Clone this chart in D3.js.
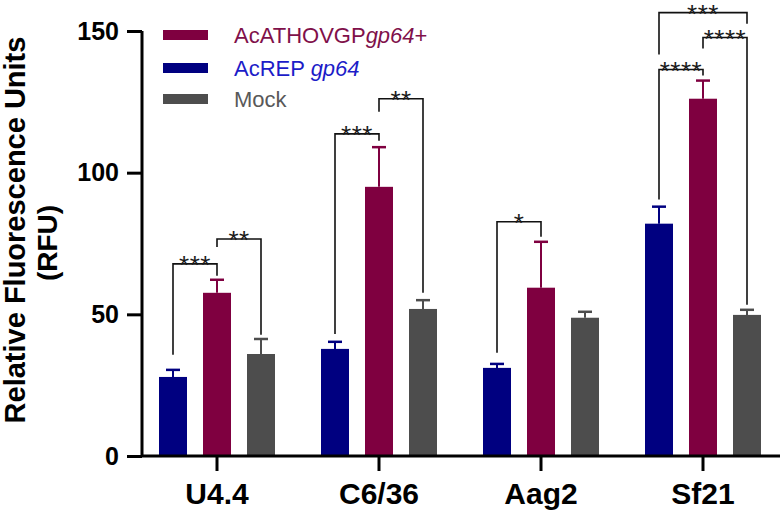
<!DOCTYPE html>
<html>
<head>
<meta charset="utf-8">
<script src="https://cdn.jsdelivr.net/npm/d3@7"></script>
<style>
  body { margin: 0; background: #fff; }
  svg text { font-family: Arial, "Liberation Sans", sans-serif; }
</style>
</head>
<body>
<div id="chart"></div>
<script>
// cell lines and series
const categories = ["U4.4", "C6/36", "Aag2", "Sf21"];
const seriesKeys = ["AcREP", "AcATHOVGP", "Mock"];

// mean RFU per series, in category order
const acrepMeans = [27.9, 37.8, 31.1, 82.0];
const acathoMeans = [57.6, 95.0, 59.4, 126.1];
const mockMeans = [36.0, 51.9, 48.8, 49.8];

// upper error (mean + SD)
const acrepErr = [30.4, 40.3, 32.5, 88.0];
const acathoErr = [62.2, 109.0, 75.6, 132.5];
const mockErr = [41.3, 55.0, 50.9, 51.6];

const yTicks = [0, 50, 100, 150];

// significance brackets: [category, from, to, stars, top, fromLeg, toLeg]
const brackets = [
    ["U4.4", "AcREP", "AcATHOVGP", "***", 67.8, 35.7, 63.6],
    ["U4.4", "AcATHOVGP", "Mock", "**", 76.6, 73.8, 42.8],
    ["C6/36", "AcREP", "AcATHOVGP", "***", 113.7, 43.1, 111.3],
    ["C6/36", "AcATHOVGP", "Mock", "**", 126.1, 121.5, 57.6],
    ["Aag2", "AcREP", "AcATHOVGP", "*", 82.7, 36.4, 77.4],
    ["Sf21", "AcREP", "AcATHOVGP", "****", 136.4, 90.5, 134.3],
    ["Sf21", "AcREP", "Mock", "***", 156.5, 141.7, 152.6],
    ["Sf21", "AcATHOVGP", "Mock", "****", 147.7, 143.8, 53.4]
];

const colors = { AcREP: "#000080", AcATHOVGP: "#7f0040", Mock: "#4d4d4d" };

const width = 782, height = 516;
const svg = d3.select("#chart").append("svg")
    .attr("width", width)
    .attr("height", height);

const x0 = d3.scaleBand().domain(categories).range([136, 784]);
const x1 = d3.scaleBand().domain(seriesKeys).range([-66, 66])
    .paddingInner(16 / 44).paddingOuter(8 / 44);
const y = d3.scaleLinear().domain([0, 150]).range([456, 31]);

const cx = (cat, key) => x0(cat) + x0.bandwidth() / 2 + x1(key) + x1.bandwidth() / 2;

// build rows
const rows = [];
categories.forEach((c, i) => {
    rows.push({ cat: c, key: "AcREP", v: acrepMeans[i], e: acrepErr[i] });
    rows.push({ cat: c, key: "AcATHOVGP", v: acathoMeans[i], e: acathoErr[i] });
    rows.push({ cat: c, key: "Mock", v: mockMeans[i], e: mockErr[i] });
});

/* error bars (behind bars) */
const eb = svg.append("g").attr("class", "errors");
eb.selectAll("line.stem").data(rows).enter().append("line")
    .attr("x1", d => cx(d.cat, d.key)).attr("x2", d => cx(d.cat, d.key))
    .attr("y1", d => y(d.v)).attr("y2", d => y(d.e))
    .attr("stroke", d => colors[d.key]).attr("stroke-width", 2);
eb.selectAll("line.cap").data(rows).enter().append("line")
    .attr("x1", d => cx(d.cat, d.key) - 7).attr("x2", d => cx(d.cat, d.key) + 7)
    .attr("y1", d => y(d.e)).attr("y2", d => y(d.e))
    .attr("stroke", d => colors[d.key]).attr("stroke-width", 2.5);

/* bars */
svg.append("g").selectAll("rect").data(rows).enter().append("rect")
    .attr("x", d => cx(d.cat, d.key) - x1.bandwidth() / 2)
    .attr("width", x1.bandwidth())
    .attr("y", d => y(d.v))
    .attr("height", d => y(0) - y(d.v))
    .attr("fill", d => colors[d.key]);

/* axes */
const axisY = d3.axisLeft(y).tickValues(yTicks).tickSize(15).tickPadding(8).tickSizeOuter(0);
const gy = svg.append("g").attr("transform", "translate(142,0)").call(axisY);
gy.select(".domain").attr("d", "M0," + y(150) + "V" + y(0)).attr("stroke-width", 3);
gy.selectAll(".tick line").attr("stroke-width", 3);
gy.selectAll(".tick text")
    .attr("font-size", 25).attr("font-weight", "bold").attr("fill", "#000")
    .attr("font-family", "Arial, 'Liberation Sans', sans-serif");

const axisX = d3.axisBottom(x0).tickSize(15).tickPadding(12).tickSizeOuter(0);
const gx = svg.append("g").attr("transform", "translate(0,456)").call(axisX);
gx.select(".domain").attr("d", "M141,0H780").attr("stroke-width", 3);
gx.selectAll(".tick line").attr("stroke-width", 3);
gx.selectAll(".tick text")
    .attr("font-size", 30).attr("font-weight", "bold").attr("fill", "#000")
    .attr("font-family", "Arial, 'Liberation Sans', sans-serif");

/* y label */
svg.append("text")
    .attr("transform", "translate(25,230) rotate(-90)")
    .attr("text-anchor", "middle")
    .attr("font-size", 29).attr("font-weight", "bold")
    .text("Relative Fluorescence Units");
svg.append("text")
    .attr("transform", "translate(57,243) rotate(-90)")
    .attr("text-anchor", "middle")
    .attr("font-size", 28).attr("font-weight", "bold")
    .text("(RFU)");

/* significance brackets */
const bg = svg.append("g").attr("class", "brackets");
brackets.forEach(b => {
    const xa = cx(b[0], b[1]), xb = cx(b[0], b[2]);
    bg.append("path")
        .attr("d", `M${xa},${y(b[5])}V${y(b[4])}H${xb}V${y(b[6])}`)
        .attr("fill", "none").attr("stroke", "#111").attr("stroke-width", 1.6);
    bg.append("text")
        .attr("x", (xa + xb) / 2).attr("y", y(b[4]) + 10)
        .attr("text-anchor", "middle")
        .attr("font-size", 26).attr("letter-spacing", 0.5).attr("fill", "#1a1a1a")
        .text(b[3]);
});

/* legend */
const legend = [
    { key: "AcATHOVGP", y: 35, color: "#80104a", parts: [["AcATHOVGP", false], ["gp64", true], ["+", false]] },
    { key: "AcREP", y: 68, color: "#1c1cc8", parts: [["AcREP ", false], ["gp64", true]] },
    { key: "Mock", y: 99, color: "#595959", parts: [["Mock", false]] }
];
const lg = svg.append("g").attr("class", "legend");
legend.forEach(l => {
    lg.append("rect").attr("x", 163).attr("y", l.y - 5).attr("width", 45).attr("height", 10)
        .attr("fill", colors[l.key]);
    const t = lg.append("text").attr("x", 234).attr("y", l.y + 8)
        .attr("font-size", 22).attr("fill", l.color);
    l.parts.forEach(p => {
        t.append("tspan").attr("font-style", p[1] ? "italic" : "normal").text(p[0]);
    });
});
</script>
</body>
</html>
